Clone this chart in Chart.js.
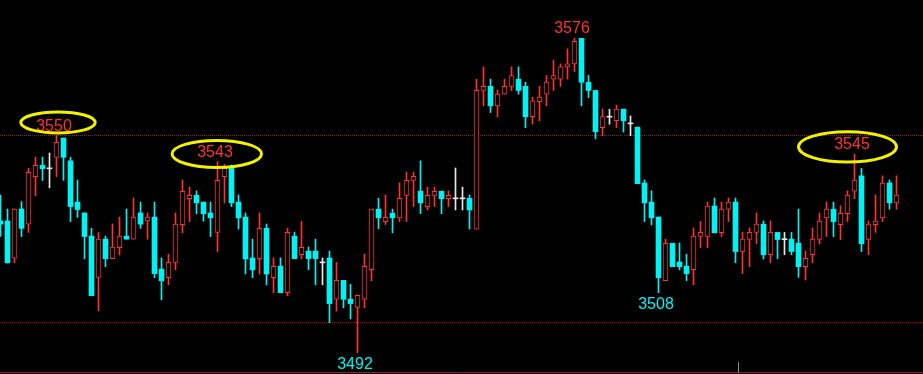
<!DOCTYPE html>
<html><head><meta charset="utf-8">
<script src="https://cdn.jsdelivr.net/npm/chart.js@4.4.0/dist/chart.umd.min.js"></script>
<style>html,body{margin:0;padding:0;background:#000;overflow:hidden}#wrap{width:923px;height:374px;position:relative}</style>
</head><body><div id="wrap"><canvas id="c" width="923" height="374"></canvas></div>
<script>
// candle indices (time slots)
const categories = Array.from({length: 129}, (_, i) => i);

const open = [3527.15,3527.15,3517.2,3530.35,3526.3,3539.0,3542.0,3541.2,3544.15,3549.3,
3543.2,3532.2,3529.3,3523.1,3512.1,3522.3,3517.1,3520.0,3523.1,3522.3,
3529.3,3527.15,3528.2,3514.3,3512.0,3516.1,3526.2,3533.1,3534.0,3532.2,
3529.3,3524.1,3539.0,3541.3,3532.2,3528.2,3517.3,3517.1,3525.2,3512.0,
3515.1,3508.0,3523.1,3518.15,3519.1,3519.1,3516.1,3517.3,3506.25,3511.3,
3506.25,3504.1,3506.25,3514.15,3530.3,3527.0,3529.2,3528.0,3534.0,3538.0,
3535.1,3531.0,3534.0,3535.1,3533.1,3533.2,3533.2,3533.2,3525.0,3562.0,
3563.1,3557.9,3561.0,3563.1,3565.0,3563.1,3555.0,3559.0,3561.0,3565.0,
3565.0,3568.3,3569.1,3575.9,3564.2,3562.0,3552.05,3555.0,3553.9,3557.0,
3553.2,3552.2,3537.3,3532.2,3528.2,3511.2,3521.2,3516.2,3515.1,3514.15,
3523.0,3523.0,3531.15,3524.0,3530.3,3532.2,3519.0,3522.2,3524.1,3526.3,
3518.15,3524.1,3522.3,3522.3,3521.2,3514.95,3518.15,3522.2,3528.0,3530.3,
3526.2,3529.1,3535.1,3539.2,3522.2,3526.2,3528.0,3537.3,3532.0];

const high = [3534.1,3530.35,3530.4,3532.3,3541.2,3544.2,3544.2,3545.3,3550.0,3549.3,
3544.2,3538.1,3529.3,3525.2,3524.1,3523.1,3526.35,3528.2,3530.35,3533.3,
3532.2,3529.3,3532.2,3517.3,3518.3,3529.3,3538.1,3536.2,3535.2,3532.2,
3532.2,3543.0,3542.3,3542.1,3534.1,3529.3,3522.3,3529.3,3526.35,3517.3,
3517.3,3525.2,3524.2,3527.0,3520.2,3522.3,3517.3,3519.1,3516.1,3511.3,
3510.25,3507.3,3518.3,3530.3,3533.2,3534.1,3530.3,3537.3,3540.2,3540.2,
3543.2,3536.2,3536.2,3535.1,3535.2,3541.3,3536.2,3534.1,3565.0,3568.3,
3565.0,3562.1,3565.0,3568.3,3568.3,3564.2,3560.2,3563.1,3566.0,3570.1,
3569.1,3573.1,3576.0,3575.9,3566.0,3562.0,3557.0,3557.0,3558.1,3557.0,
3555.2,3552.2,3538.1,3535.2,3528.2,3522.3,3521.2,3521.3,3518.3,3525.3,
3527.0,3532.2,3533.3,3532.2,3533.3,3533.3,3524.2,3525.3,3529.3,3527.15,
3527.15,3524.1,3524.1,3524.1,3530.35,3519.1,3525.3,3529.3,3532.2,3532.2,
3531.2,3535.2,3545.0,3541.2,3527.15,3534.1,3539.2,3538.1,3539.2];

const low = [3523.0,3515.9,3516.0,3523.0,3524.1,3533.9,3538.0,3536.0,3539.0,3538.0,
3527.0,3528.1,3517.1,3507.2,3503.2,3514.95,3517.1,3518.1,3522.3,3522.3,
3525.2,3522.3,3512.0,3506.1,3510.1,3514.15,3524.0,3527.0,3529.1,3527.1,
3523.0,3519.0,3532.0,3531.0,3525.0,3513.0,3512.0,3513.0,3510.1,3508.0,
3508.0,3507.2,3517.1,3517.1,3514.15,3510.1,3510.1,3500.0,3503.1,3504.0,
3501.0,3492.0,3504.0,3511.2,3525.1,3526.2,3524.0,3527.0,3527.0,3531.0,
3529.1,3530.1,3531.0,3529.1,3531.0,3530.1,3530.1,3525.0,3525.0,3557.9,
3556.1,3555.0,3561.0,3562.0,3561.0,3552.05,3553.0,3553.9,3557.9,3562.0,
3563.1,3565.0,3567.0,3557.9,3560.1,3549.1,3549.9,3553.0,3552.05,3550.9,
3549.9,3537.1,3527.0,3526.1,3508.0,3511.2,3514.95,3514.1,3511.2,3510.1,
3520.0,3520.0,3524.0,3523.0,3527.0,3516.0,3513.1,3514.95,3521.1,3517.0,
3516.0,3517.1,3518.15,3518.15,3512.1,3511.4,3516.0,3521.0,3523.0,3523.0,
3522.2,3527.0,3533.1,3519.0,3518.15,3524.1,3527.0,3530.3,3530.3];

const close = [3526.3,3516.0,3530.35,3525.2,3540.15,3542.0,3541.1,3541.2,3548.15,3544.15,
3531.0,3530.2,3523.0,3507.2,3522.3,3517.1,3520.2,3523.1,3522.3,3528.2,
3526.3,3528.2,3513.1,3511.2,3516.1,3526.35,3535.1,3534.0,3532.0,3529.1,
3528.0,3538.0,3541.2,3532.0,3528.0,3517.0,3514.1,3525.2,3513.0,3515.05,
3508.0,3524.1,3517.1,3520.1,3517.1,3517.1,3516.1,3505.1,3511.3,3506.25,
3505.1,3507.3,3515.05,3530.3,3528.0,3528.1,3528.0,3533.2,3538.0,3539.1,
3532.0,3534.0,3535.1,3533.1,3534.0,3533.2,3533.2,3530.1,3562.0,3563.1,
3557.9,3561.0,3563.1,3566.0,3562.0,3555.0,3559.2,3560.2,3564.2,3566.0,
3568.3,3569.1,3575.1,3564.2,3562.0,3551.0,3555.0,3555.0,3557.0,3553.9,
3553.2,3537.1,3532.0,3528.0,3512.0,3521.2,3514.95,3514.95,3513.1,3523.1,
3524.1,3531.15,3524.0,3530.35,3532.2,3519.0,3522.3,3524.1,3526.3,3518.15,
3524.1,3522.2,3522.3,3519.0,3514.95,3517.2,3522.3,3527.15,3530.3,3527.0,
3529.2,3534.1,3538.1,3521.1,3526.3,3527.15,3537.3,3532.0,3534.1];

// reference price levels (dotted lines)
const refLevels = [3550.1, 3500.2];
// marked extremes: candle index, price, text
const markIndex = [8, 31, 122, 82, 51, 94];
const markValue = [3550, 3543, 3545, 3576, 3492, 3508];
const markText  = ['3550', '3543', '3545', '3576', '3492', '3508'];
const markAbove = [true, true, true, true, false, false];
const markCircled = [true, true, true, false, false, false];
const timeMarkerIndex = 105.5;

const RED = '#ff3232', CYAN = '#00f2f2', WHITE = '#e8e8e8', YELLOW = '#f2f200';
const candleColor = i => close[i] > open[i] ? RED : (close[i] < open[i] ? CYAN : WHITE);

const wickData = categories.map(i => ({x: i, y: [low[i], high[i]]}));
const bodyData = categories.map(i => {
  const o = open[i], c = close[i];
  return {x: i, y: o === c ? [o - 0.13, o + 0.13] : [o, c]};
});

const Y_PX = 3.746;
const yMax = 3576 + 38 / Y_PX, yMin = yMax - 374 / Y_PX;

const ellipseStyle = [
  {dx: 1.5, dy: -13, rx: 37.2, ry: 10.5},
  {dx: -0.7, dy: -7.7, rx: 44.7, ry: 13.5},
  {dx: -7, dy: -7.3, rx: 49, ry: 15.2}
];

const deco = {
  id: 'deco',
  beforeDraw(chart) {
    const ctx = chart.ctx;
    ctx.save();
    ctx.fillStyle = '#000';
    ctx.fillRect(0, 0, chart.width, chart.height);
    ctx.restore();
  },
  beforeDatasetsDraw(chart) {
    const ctx = chart.ctx, ys = chart.scales.y, xs = chart.scales.x;
    ctx.save();
    ctx.lineWidth = 1;
    ctx.setLineDash([1, 1]);
    refLevels.forEach((v, k) => {
      const y = Math.round(ys.getPixelForValue(v)) + 0.5;
      ctx.strokeStyle = k === 0 ? '#8a2020' : '#c00000';
      ctx.beginPath(); ctx.moveTo(0, y); ctx.lineTo(chart.width, y); ctx.stroke();
    });
    ctx.setLineDash([]);
    ctx.strokeStyle = '#8c2020';
    ctx.beginPath(); ctx.moveTo(0, chart.height - 1.5); ctx.lineTo(chart.width, chart.height - 1.5); ctx.stroke();
    const tx = Math.round(xs.getPixelForValue(timeMarkerIndex)) - 0.5;
    ctx.strokeStyle = '#8a8a8a';
    ctx.beginPath(); ctx.moveTo(tx, chart.height - 12); ctx.lineTo(tx, chart.height - 1); ctx.stroke();
    ctx.restore();
  },
  afterDatasetsDraw(chart) {
    const ctx = chart.ctx, ys = chart.scales.y, xs = chart.scales.x;
    ctx.save();
    ctx.font = '16px "Liberation Sans Narrow", "Arial Narrow", "Liberation Sans", Arial, sans-serif';
    ctx.textAlign = 'center';
    ctx.textBaseline = 'alphabetic';
    let e = 0;
    markIndex.forEach((idx, k) => {
      const px = xs.getPixelForValue(idx), py = ys.getPixelForValue(markValue[k]);
      const cx = px - 2.5, cy = markAbove[k] ? py - 10.5 : py + 10.5;
      ctx.fillStyle = markAbove[k] ? RED : CYAN;
      ctx.fillText(markText[k], cx, cy + 5.8);
      if (markCircled[k]) {
        const s = ellipseStyle[e++];
        ctx.strokeStyle = YELLOW;
        ctx.lineWidth = 3;
        ctx.beginPath();
        ctx.ellipse(px + s.dx, py + s.dy, s.rx, s.ry, 0, 0, Math.PI * 2);
        ctx.stroke();
      }
    });
    ctx.restore();
  }
};

new Chart(document.getElementById('c'), {
  type: 'bar',
  data: {
    datasets: [
      {
        label: 'body', data: bodyData, order: 0, grouped: false,
        barThickness: 5,
        backgroundColor: categories.map(i => candleColor(i) === RED ? '#000' : candleColor(i)),
        borderColor: categories.map(i => candleColor(i)),
        borderWidth: categories.map(i => candleColor(i) === RED ? 1 : 0),
        borderSkipped: false
      },
      {
        label: 'wick', data: wickData, order: 1, grouped: false,
        barThickness: 1,
        backgroundColor: categories.map(i => candleColor(i)),
        borderWidth: 0
      }
    ]
  },
  options: {
    responsive: false,
    devicePixelRatio: 1,
    animation: false,
    layout: {padding: 0},
    plugins: {legend: {display: false}, tooltip: {enabled: false}},
    scales: {
      x: {type: 'linear', display: false, offset: false, min: -0.5 / 7, max: (923 - 0.5) / 7},
      y: {display: false, min: yMin, max: yMax}
    }
  },
  plugins: [deco]
});
</script>
</body></html>
